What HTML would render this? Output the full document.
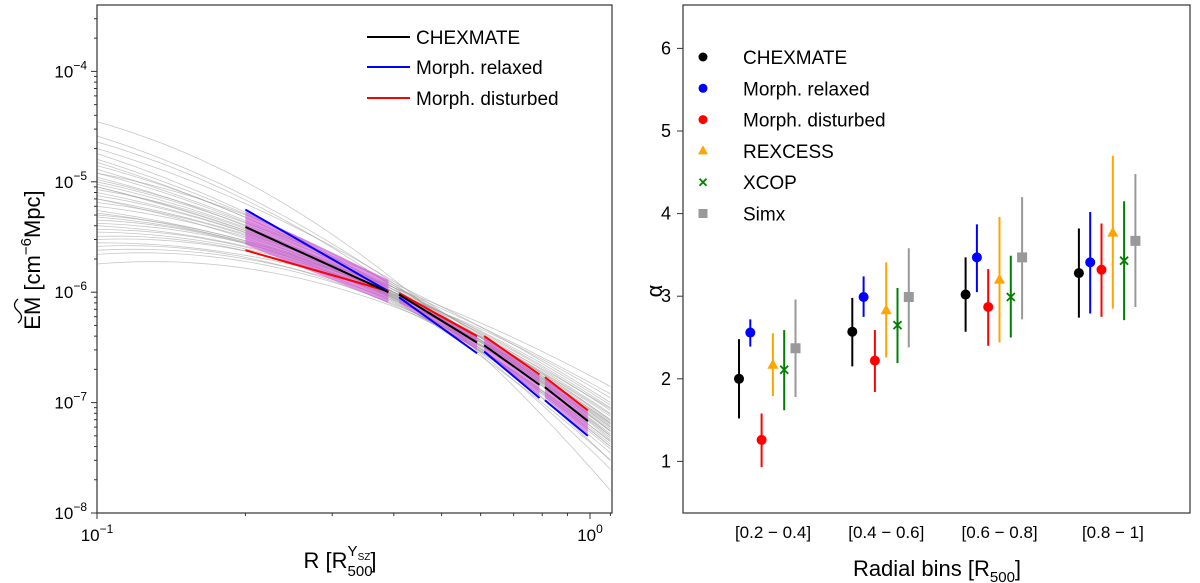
<!DOCTYPE html>
<html><head><meta charset="utf-8"><style>
body{margin:0;background:#fff;}
svg{display:block;font-family:"Liberation Sans","DejaVu Sans",sans-serif;}
</style></head><body>
<svg id="s" width="1200" height="583" viewBox="0 0 1200 583" xmlns="http://www.w3.org/2000/svg">
<g id="left"></g>
<g id="right"></g>
</svg>
<script>
// ---- Left panel data ----
const grayAt01 = [3.5e-5,2.6e-5,2.3e-5,2.0e-5,1.8e-5,1.6e-5,1.5e-5,1.4e-5,1.3e-5,1.2e-5,1.1e-5,1.05e-5,1.0e-5,9.5e-6,9e-6,8.5e-6,8e-6,7.5e-6,7e-6,6.5e-6,6e-6,5.5e-6,5e-6,4.8e-6,4.5e-6,4.2e-6,4e-6,3.7e-6,3.5e-6,3.2e-6,3e-6,2.8e-6,2.6e-6,2.4e-6,2.2e-6,1.8e-6,1.2e-5,9e-6,7e-6,5.2e-6];
const grayAt04 = [1.3e-6,1.2e-6,1.1e-6,1.25e-6,1.0e-6,1.15e-6,1.05e-6,9.5e-7,1.1e-6,1.0e-6,9e-7,1.2e-6,1.05e-6,9.8e-7,1.1e-6,8.5e-7,1.0e-6,9.2e-7,1.05e-6,8.8e-7,9.6e-7,1.1e-6,9e-7,1.0e-6,8.2e-7,9.4e-7,1.0e-6,8.6e-7,9.2e-7,8e-7,8.8e-7,9.6e-7,7.6e-7,8.4e-7,7.8e-7,7.4e-7,1.15e-6,1.0e-6,9.4e-7,8.9e-7];
const grayAt11 = [1.6e-8,3e-8,2.5e-8,5e-8,4e-8,7e-8,6e-8,3.5e-8,8e-8,5.5e-8,4.5e-8,1.0e-7,6.5e-8,5.8e-8,1.2e-7,3e-8,7.5e-8,5e-8,9e-8,4.2e-8,6.2e-8,1.4e-7,5.2e-8,8.5e-8,3.8e-8,6e-8,9.5e-8,4.8e-8,7e-8,4e-8,5.5e-8,1.1e-7,4.4e-8,6.8e-8,5.6e-8,6.4e-8,4.6e-8,7.8e-8,8.8e-8,6.6e-8];
const binEdges = [[0.2,0.4],[0.4,0.6],[0.6,0.8],[0.8,1.0]];
const chexStart = [3.9e-6,9.5e-7,3.3e-7,1.38e-7];
const chexEnd = [1.0e-6,3.5e-7,1.45e-7,6.8e-8];
const relaxStart = [5.6e-6,9.0e-7,2.9e-7,1.05e-7];
const relaxEnd = [1.02e-6,2.8e-7,1.1e-7,5.0e-8];
const distStart = [2.4e-6,9.8e-7,4.0e-7,1.7e-7];
const distEnd = [1.02e-6,4.0e-7,1.8e-7,8.5e-8];
const bandLoStart = [2.7e-6,8.0e-7,2.9e-7,1.1e-7];
const bandLoEnd = [8.0e-7,3.0e-7,1.15e-7,5.2e-8];
const bandHiStart = [5.4e-6,1.0e-6,3.9e-7,1.65e-7];
const bandHiEnd = [1.3e-6,4.0e-7,1.75e-7,8.3e-8];
const yTickExps = [-8,-7,-6,-5,-4];

// ---- Right panel data ----
const binLabels = ["[0.2 \u2212 0.4]","[0.4 \u2212 0.6]","[0.6 \u2212 0.8]","[0.8 \u2212 1]"];
const seriesNames = ["CHEXMATE","Morph. relaxed","Morph. disturbed","REXCESS","XCOP","Simx"];
const chexVal=[2.0,2.57,3.02,3.28], chexLo=[1.52,2.15,2.57,2.74], chexHi=[2.48,2.98,3.47,3.82];
const relVal=[2.56,2.99,3.47,3.41], relLo=[2.39,2.75,3.05,2.79], relHi=[2.72,3.24,3.87,4.02];
const disVal=[1.26,2.22,2.87,3.32], disLo=[0.93,1.84,2.40,2.75], disHi=[1.58,2.59,3.33,3.88];
const rexVal=[2.17,2.83,3.2,3.77], rexLo=[1.79,2.26,2.44,2.85], rexHi=[2.55,3.41,3.96,4.7];
const xcopVal=[2.11,2.65,2.99,3.43], xcopLo=[1.62,2.19,2.50,2.71], xcopHi=[2.59,3.10,3.49,4.15];
const simxVal=[2.37,2.99,3.47,3.67], simxLo=[1.78,2.38,2.72,2.87], simxHi=[2.96,3.58,4.2,4.48];
const alphaTicks=[1,2,3,4,5,6];

const NS="http://www.w3.org/2000/svg";
function mk(parent,tag,attrs,text){const e=document.createElementNS(NS,tag);for(const k in attrs)e.setAttribute(k,attrs[k]);if(text!==undefined)e.textContent=text;parent.appendChild(e);return e;}

// Left axes
const L={x0:97,x1:612,y0:5,y1:513};
const lx=r=>97+(Math.log10(r)+1)*493;
const ly=v=>513-(Math.log10(v)+8)*110.4;
const left=document.getElementById('left');
const clipL=mk(left,'clipPath',{id:'cl'});mk(clipL,'rect',{x:L.x0,y:L.y0,width:L.x1-L.x0,height:L.y1-L.y0});
const gl=mk(left,'g',{'clip-path':'url(#cl)'});
const r0=Math.log10(0.1),r1=Math.log10(0.4),r2=Math.log10(1.1);
for(let i=0;i<grayAt01.length;i++){
  const a=Math.log10(grayAt01[i]),b=Math.log10(grayAt04[i]),c=Math.log10(grayAt11[i]);
  let d="";
  for(let k=0;k<=40;k++){
    const t=r0+(r2-r0)*k/40;
    const v=a*((t-r1)*(t-r2))/((r0-r1)*(r0-r2))+b*((t-r0)*(t-r2))/((r1-r0)*(r1-r2))+c*((t-r0)*(t-r1))/((r2-r0)*(r2-r1));
    d+=(k?"L":"M")+lx(Math.pow(10,t)).toFixed(1)+","+ly(Math.pow(10,v)).toFixed(1);
  }
  const p=mk(gl,'path',{d:d,fill:'none',stroke:'#999','stroke-width':0.8,'stroke-opacity':0.55});
  
  
}
for(let i=0;i<binEdges.length;i++){
  const a=binEdges[i][0]+(i?0.01:0),b=binEdges[i][1]-0.01;
  const band=mk(gl,'polygon',{points:`${lx(a)},${ly(bandHiStart[i])} ${lx(b)},${ly(bandHiEnd[i])} ${lx(b)},${ly(bandLoEnd[i])} ${lx(a)},${ly(bandLoStart[i])}`,fill:'#d050d8','fill-opacity':0.6});
  
  
  const sets=[[relaxStart,relaxEnd,'#0000ff','relaxed'],[distStart,distEnd,'#ff0000','disturbed'],[chexStart,chexEnd,'#000','chexmate']];
  for(const s of sets){
    const ln=mk(gl,'line',{x1:lx(a),y1:ly(s[0][i]),x2:lx(b),y2:ly(s[1][i]),stroke:s[2],'stroke-width':2});
    
    
  }
}
mk(left,'rect',{x:L.x0,y:L.y0,width:L.x1-L.x0,height:L.y1-L.y0,fill:'none',stroke:'#333','stroke-width':1.2,});
// left y ticks
for(const e of yTickExps){
  const y=ly(Math.pow(10,e));
  mk(left,'line',{x1:L.x0-6,y1:y,x2:L.x0,y2:y,stroke:'#333'});
  const t=mk(left,'text',{x:L.x0-10,y:y+6,'text-anchor':'end','font-size':17});
  
  
  t.innerHTML=`10<tspan dy="-8" font-size="12">\u2212${-e}</tspan>`;
  if(e<-4)for(let m=2;m<10;m++){const ym=ly(m*Math.pow(10,e));mk(left,'line',{x1:L.x0-3,y1:ym,x2:L.x0,y2:ym,stroke:'#333'});}
}
for(let m=2;m<10;m++){const ym=ly(m*1e-4);if(ym>L.y0)mk(left,'line',{x1:L.x0-3,y1:ym,x2:L.x0,y2:ym,stroke:'#333'});}
// left x ticks
[[0.1,'\u22121'],[1,'0']].forEach(([r,ex])=>{
  const x=lx(r);mk(left,'line',{x1:x,y1:L.y1,x2:x,y2:L.y1+6,stroke:'#333'});
  const t=mk(left,'text',{x:x,y:L.y1+28,'text-anchor':'middle','font-size':17});
  
  
  t.innerHTML=`10<tspan dy="-8" font-size="12">${ex}</tspan>`;
});
for(let m=2;m<=11;m++){if(m===10)continue;const x=lx(m/10);mk(left,'line',{x1:x,y1:L.y1,x2:x,y2:L.y1+3,stroke:'#333'});}
// left axis labels
const xl=mk(left,'text',{x:340,y:568,'text-anchor':'middle','font-size':22,});
xl.innerHTML='R [R<tspan dy="8" font-size="15">500</tspan><tspan dx="-25" dy="-20" font-size="15">Y</tspan><tspan dy="4" font-size="10">SZ</tspan><tspan dy="8">]</tspan>';
const yl=mk(left,'text',{transform:'translate(40,260) rotate(-90)','text-anchor':'middle','font-size':22,});
yl.innerHTML='EM <tspan>[cm</tspan><tspan dy="-9" font-size="15">\u22126</tspan><tspan dy="9">Mpc]</tspan>';
mk(left,'path',{d:'M18,299 q-7,6 0,12 q7,6 0,12',fill:'none',stroke:'#000','stroke-width':1.3,});
// left legend
[['CHEXMATE','#000',37],['Morph. relaxed','#0000ff',67],['Morph. disturbed','#ff0000',98]].forEach(([n,c,y],i)=>{
  const g=mk(left,'g',{});
  
  
  mk(g,'line',{x1:367,y1:y,x2:410,y2:y,stroke:c,'stroke-width':2});
  mk(g,'text',{x:416,y:y+7,'font-size':19},n);
});

// Right axes
const R={x0:683,x1:1190,y0:5,y1:513};
const ry=v=>544-v*82.6;
const groupStart=i=>739+i*113.3;
const right=document.getElementById('right');
mk(right,'rect',{x:R.x0,y:R.y0,width:R.x1-R.x0,height:R.y1-R.y0,fill:'none',stroke:'#333','stroke-width':1.2,});
for(const v of alphaTicks){
  const y=ry(v);mk(right,'line',{x1:R.x0-6,y1:y,x2:R.x0,y2:y,stroke:'#333'});
  const t=mk(right,'text',{x:R.x0-12,y:y+6,'text-anchor':'end','font-size':18},String(v));
  
  
}
binLabels.forEach((b,i)=>{
  const t=mk(right,'text',{x:groupStart(i)+34,y:538,'text-anchor':'middle','font-size':17},b);
  
  
});
const xr=mk(right,'text',{x:937,y:576,'text-anchor':'middle','font-size':22,});
xr.innerHTML='Radial bins [R<tspan dy="6" font-size="15">500</tspan><tspan dy="-6">]</tspan>';
mk(right,'text',{x:660,y:303,'text-anchor':'middle','font-size':22,transform:'rotate(-90 655,296)',},'\u03b1');
const series=[[chexVal,chexLo,chexHi,'#000','o'],[relVal,relLo,relHi,'#0000ff','o'],[disVal,disLo,disHi,'#ff0000','o'],[rexVal,rexLo,rexHi,'#ffa500','^'],[xcopVal,xcopLo,xcopHi,'#008000','x'],[simxVal,simxLo,simxHi,'#999','s']];
function marker(g,type,x,y,c,sz){
  if(type==='o')mk(g,'circle',{cx:x,cy:y,r:sz,fill:c});
  else if(type==='^')mk(g,'polygon',{points:`${x},${y-sz-1} ${x-sz-0.5},${y+sz-1} ${x+sz+0.5},${y+sz-1}`,fill:c});
  else if(type==='s')mk(g,'rect',{x:x-sz,y:y-sz,width:2*sz,height:2*sz,fill:c});
  else{mk(g,'path',{d:`M${x-sz+1},${y-sz+1}L${x+sz-1},${y+sz-1}M${x-sz+1},${y+sz-1}L${x+sz-1},${y-sz+1}`,stroke:c,'stroke-width':1.8});}
}
series.forEach((s,k)=>{
  for(let i=0;i<s[0].length;i++){
    const g=mk(right,'g',{});
    
    
    const x=groupStart(i)+k*11.3;
    mk(g,'line',{x1:x,y1:ry(s[1][i]),x2:x,y2:ry(s[2][i]),stroke:s[3],'stroke-width':2});
    marker(g,s[4],x,ry(s[0][i]),s[3],5);
  }
  const lg=mk(right,'g',{});
  
  
  const y=57+k*31.3;
  marker(lg,s[4],703,y,s[3],4.5);
  mk(lg,'text',{x:743,y:y+7,'font-size':19},seriesNames[k]);
});
</script>
</body></html>
